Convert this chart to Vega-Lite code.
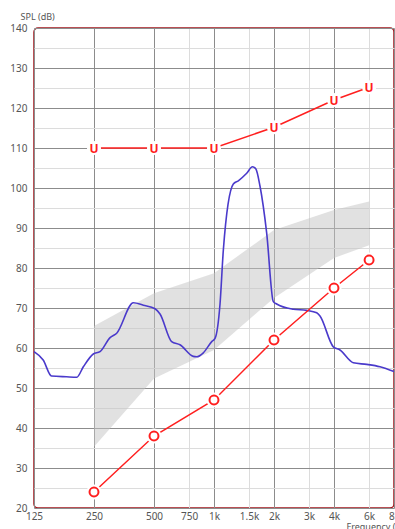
{
  "$schema": "https://vega.github.io/schema/vega-lite/v6.json",
  "width": 360,
  "height": 480,
  "autosize": "none",
  "padding": {"left": 34, "top": 28, "right": 1, "bottom": 21},
  "config": {
    "font": "Noto Sans",
    "view": {"stroke": "#a3161c", "strokeWidth": 1.5, "cornerRadius": 4, "fill": "white"},
    "axis": {"labelFont": "Noto Sans", "titleFont": "Noto Sans", "labelColor": "#555555", "titleColor": "#555555", "labelFontSize": 10, "titleFontSize": 9, "titleFontWeight": "normal", "domain": false, "ticks": false}
  },
  "datasets": {
    "band": [
      {"freq": 250, "lo": 35.3, "hi": 65.5},
      {"freq": 500, "lo": 52.4, "hi": 73.7},
      {"freq": 1000, "lo": 59.5, "hi": 78.7},
      {"freq": 2000, "lo": 72.5, "hi": 89.5},
      {"freq": 4000, "lo": 82.5, "hi": 94.5},
      {"freq": 6000, "lo": 85.7, "hi": 96.6}
    ],
    "spectrum": [
      {"freq": 125, "db": 59.1},
      {"freq": 139, "db": 57.0},
      {"freq": 153, "db": 53.0},
      {"freq": 182, "db": 52.8},
      {"freq": 205, "db": 52.7},
      {"freq": 221, "db": 55.3},
      {"freq": 248, "db": 58.5},
      {"freq": 268, "db": 59.1},
      {"freq": 301, "db": 62.6},
      {"freq": 325, "db": 63.7},
      {"freq": 394, "db": 71.3},
      {"freq": 442, "db": 70.7},
      {"freq": 506, "db": 69.8},
      {"freq": 536, "db": 68.5},
      {"freq": 613, "db": 61.6},
      {"freq": 675, "db": 60.8},
      {"freq": 787, "db": 57.9},
      {"freq": 818, "db": 57.8},
      {"freq": 884, "db": 58.8},
      {"freq": 974, "db": 61.6},
      {"freq": 1012, "db": 62.4},
      {"freq": 1072, "db": 71.0},
      {"freq": 1114, "db": 84.5},
      {"freq": 1250, "db": 101.0},
      {"freq": 1324, "db": 101.8},
      {"freq": 1459, "db": 103.7},
      {"freq": 1560, "db": 105.3},
      {"freq": 1620, "db": 104.8},
      {"freq": 1701, "db": 100.5},
      {"freq": 1838, "db": 88.7},
      {"freq": 1984, "db": 71.6},
      {"freq": 2063, "db": 71.0},
      {"freq": 2500, "db": 69.7},
      {"freq": 2918, "db": 69.4},
      {"freq": 3276, "db": 68.8},
      {"freq": 3403, "db": 68.0},
      {"freq": 3968, "db": 60.3},
      {"freq": 4287, "db": 59.5},
      {"freq": 5000, "db": 56.3},
      {"freq": 5838, "db": 55.9},
      {"freq": 6806, "db": 55.3},
      {"freq": 8000, "db": 54.1}
    ],
    "threshold": [
      {"freq": 250, "db": 24},
      {"freq": 500, "db": 38},
      {"freq": 1000, "db": 47},
      {"freq": 2000, "db": 62},
      {"freq": 4000, "db": 75},
      {"freq": 6000, "db": 82}
    ],
    "ucl": [
      {"freq": 250, "db": 110, "mark": "U"},
      {"freq": 500, "db": 110, "mark": "U"},
      {"freq": 1000, "db": 110, "mark": "U"},
      {"freq": 2000, "db": 115.2, "mark": "U"},
      {"freq": 4000, "db": 122, "mark": "U"},
      {"freq": 6000, "db": 125.2, "mark": "U"}
    ]
  },
  "encoding": {
    "x": {
      "field": "freq", "type": "quantitative",
      "scale": {"type": "log", "domain": [125, 8000], "nice": false, "zero": false},
      "axis": {
        "title": "Frequency (Hz)",
        "titleAnchor": "start", "titleAlign": "left", "titleX": 312, "titleY": 18, "titleBaseline": "middle",
        "values": [125, 250, 500, 750, 1000, 1500, 2000, 3000, 4000, 6000, 8000],
        "labelExpr": "datum.value >= 1000 ? (datum.value / 1000) + 'k' : datum.value",
        "labelPadding": 3,
        "labelFlush": false,
        "grid": true,
        "gridColor": {"condition": {"test": "indexof([750,1500,3000,6000], datum.value) >= 0", "value": "#dcdcdc"}, "value": "#8c8c8c"},
        "gridWidth": 1
      }
    },
    "y": {
      "field": "db", "type": "quantitative",
      "scale": {"domain": [20, 140], "nice": false, "zero": false},
      "axis": {
        "title": "SPL (dB)",
        "titleAngle": 0, "titleAlign": "left", "titleAnchor": "end", "titleX": -14, "titleY": -12, "titleBaseline": "middle",
        "values": [20,25,30,35,40,45,50,55,60,65,70,75,80,85,90,95,100,105,110,115,120,125,130,135,140],
        "labelExpr": "datum.value % 10 == 0 ? datum.label : ''",
        "labelPadding": 7,
        "grid": true,
        "gridColor": {"condition": {"test": "datum.value % 10 != 0", "value": "#dcdcdc"}, "value": "#8c8c8c"},
        "gridWidth": 1
      }
    }
  },
  "layer": [
    {
      "data": {"name": "band"},
      "mark": {"type": "area", "color": "#c4c4c4", "opacity": 0.5},
      "encoding": {"y": {"field": "hi", "type": "quantitative"}, "y2": {"field": "lo"}}
    },
    {
      "data": {"name": "spectrum"},
      "mark": {"type": "line", "color": "#4a3acb", "strokeWidth": 1.6, "interpolate": "monotone"},
      "encoding": {}
    },
    {
      "data": {"name": "threshold"},
      "mark": {"type": "line", "color": "#ff1f1f", "strokeWidth": 1.5},
      "encoding": {}
    },
    {
      "data": {"name": "threshold"},
      "mark": {"type": "point", "shape": "circle", "filled": true, "color": "white", "size": 230, "opacity": 1},
      "encoding": {}
    },
    {
      "data": {"name": "threshold"},
      "mark": {"type": "point", "shape": "circle", "filled": false, "color": "#ff1f1f", "strokeWidth": 2, "size": 80, "opacity": 1},
      "encoding": {}
    },
    {
      "data": {"name": "ucl"},
      "mark": {"type": "line", "color": "#ff1f1f", "strokeWidth": 1.5},
      "encoding": {}
    },
    {
      "data": {"name": "ucl"},
      "mark": {"type": "point", "shape": "circle", "filled": true, "color": "white", "size": 200, "opacity": 1},
      "encoding": {}
    },
    {
      "data": {"name": "ucl"},
      "mark": {"type": "text", "color": "#ff1f1f", "fontSize": 12, "fontWeight": "bold", "align": "center", "baseline": "middle", "dy": 1},
      "encoding": {"text": {"field": "mark"}}
    }
  ]
}
